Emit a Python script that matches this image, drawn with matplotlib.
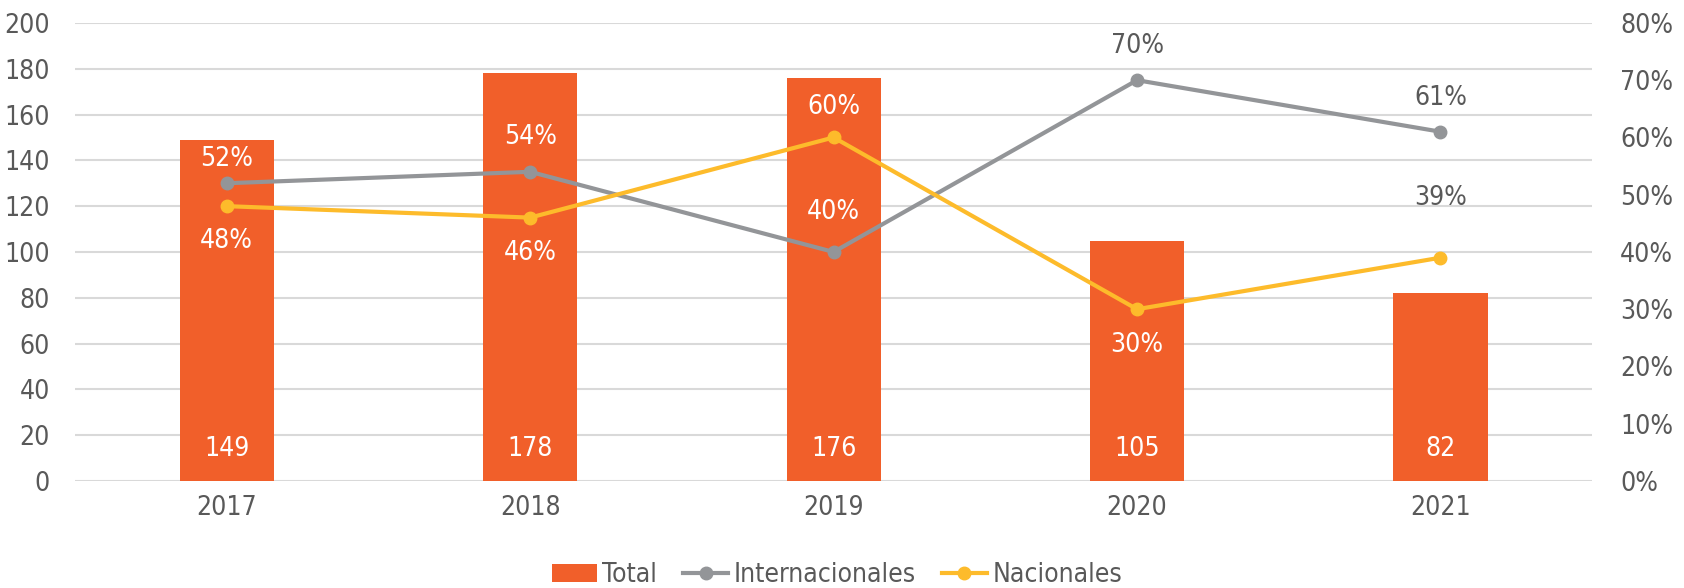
import matplotlib
matplotlib.use("Agg")
import matplotlib.pyplot as plt
from matplotlib.lines import Line2D
from matplotlib.patches import Patch

# Datos
anios = ["2017", "2018", "2019", "2020", "2021"]
total = [149, 178, 176, 105, 82]
internacionales = [52, 54, 40, 70, 61]
nacionales = [48, 46, 60, 30, 39]

# desplazamiento vertical (px) de cada etiqueta respecto a su punto
despl_internacionales = [24, 35, 40, 34, 34]
despl_nacionales = [-35, -35, 30, -36, 60]

NARANJA = "#F15F2A"
GRIS = "#939598"
AMARILLO = "#FDBB2B"
TEXTO = "#595959"
REJILLA = "#D9D9D9"

plt.rcParams["font.family"] = "DejaVu Sans"
plt.rcParams["font.stretch"] = "condensed"
plt.rcParams["font.size"] = 19

fig = plt.figure(figsize=(16.84, 5.88), dpi=100)
ax = fig.add_axes([0.0445, 0.182, 0.901, 0.779])
ax2 = ax.twinx()

x = list(range(len(anios)))
ax.bar(x, total, width=0.31, color=NARANJA, zorder=2)
ax.set_ylim(0, 200)
ax.set_yticks(range(0, 201, 20))
ax.set_xlim(-0.5, len(anios) - 0.5)
ax.set_xticks(x)
ax.set_xticklabels(anios)
ax.grid(axis="y", color=REJILLA, linewidth=1.5, zorder=0)
ax.set_axisbelow(True)

for xi, v in zip(x, total):
    ax.text(xi, 14, str(v), ha="center", va="center", color="white", zorder=5)

ax2.plot(x, internacionales, color=GRIS, linewidth=3, marker="o", markersize=9, zorder=3)
ax2.plot(x, nacionales, color=AMARILLO, linewidth=3, marker="o", markersize=9, zorder=3)
ax2.set_ylim(0, 80)
ax2.set_yticks(range(0, 81, 10))
ax2.set_yticklabels([f"{v}%" for v in range(0, 81, 10)])


def color_etiqueta(i, valor_pct, d):
    # blanco si la etiqueta cae dentro de la barra
    y_barra = total[i] / 200 * 80
    return "white" if valor_pct + d * 0.17 < y_barra - 2 else TEXTO


for serie, despl in ((internacionales, despl_internacionales),
                     (nacionales, despl_nacionales)):
    for i, (v, d) in enumerate(zip(serie, despl)):
        ax2.annotate(f"{v}%", (i, v), xytext=(0, d), textcoords="offset pixels",
                     ha="center", va="center", color=color_etiqueta(i, v, d), zorder=6)

for a in (ax, ax2):
    for s in a.spines.values():
        s.set_visible(False)
    a.tick_params(length=0, colors=TEXTO, labelsize=19)
ax.tick_params(axis="x", pad=10)
ax.tick_params(axis="y", pad=18)
ax2.tick_params(axis="y", pad=20)

elementos = [
    Patch(facecolor=NARANJA, label="Total"),
    Line2D([0], [0], color=GRIS, linewidth=3, marker="o", markersize=9, label="Internacionales"),
    Line2D([0], [0], color=AMARILLO, linewidth=3, marker="o", markersize=9, label="Nacionales"),
]
leg = fig.legend(handles=elementos, loc="center", bbox_to_anchor=(0.497, 0.022), ncol=3,
                 frameon=False, handlelength=1.7, handletextpad=0.2,
                 columnspacing=1.0)
for t in leg.get_texts():
    t.set_color(TEXTO)

fig.savefig("out.png", dpi=100)
